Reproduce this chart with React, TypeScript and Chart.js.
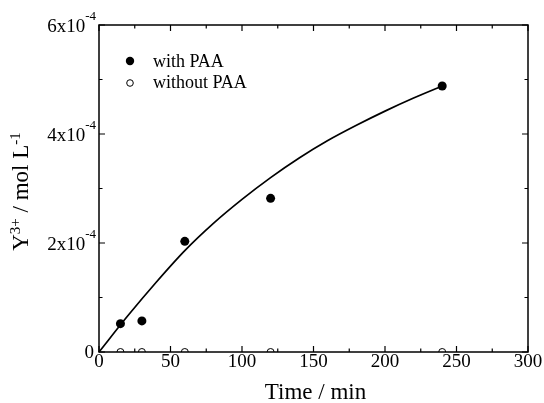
import React, { useEffect, useRef } from "react";
import { Chart, registerables } from "chart.js";

Chart.register(...registerables);

// ---- data ----
const fitTimes = [0, 20, 40, 60, 80, 100, 120, 140, 160, 180, 200, 220, 240];
const fitValues = [0, 0.66e-4, 1.28e-4, 1.86e-4, 2.36e-4, 2.8e-4, 3.2e-4, 3.56e-4, 3.88e-4, 4.16e-4, 4.42e-4, 4.66e-4, 4.88e-4];
const sampleTimes = [15, 30, 60, 120, 240];
const withPAA = [0.52e-4, 0.57e-4, 2.03e-4, 2.82e-4, 4.88e-4];
const withoutPAA = [0, 0, 0, 0, 0];
const xTickValues = [0, 50, 100, 150, 200, 250, 300];
const yTickMantissas = [0, 2, 4, 6];
const yExponentText = "-4";
const yUnit = 1e-4;
const legendLabels = ["with PAA", "without PAA"];
const xTitle = "Time / min";
const yTitleParts: [string, boolean][] = [
  ["Y", false],
  ["3+", true],
  [" / mol L", false],
  ["-1", true],
];

const FONT = '"Liberation Serif", "Times New Roman", serif';

const decorPlugin = {
  id: "decor",
  afterDraw(chart: any) {
    const { ctx, chartArea: a, scales } = chart;
    const xs = scales.x;
    const ys = scales.y;
    ctx.save();
    ctx.strokeStyle = "#000";
    ctx.fillStyle = "#000";

    // ticks (inward, all four sides)
    ctx.lineWidth = 1.2;
    ctx.beginPath();
    const xStep = xTickValues[1] - xTickValues[0];
    for (let i = 0; i < xTickValues.length; i++) {
      const vals = [xTickValues[i]];
      if (i < xTickValues.length - 1) vals.push(xTickValues[i] + xStep / 2);
      vals.forEach((v, k) => {
        const px = xs.getPixelForValue(v);
        const len = k === 0 ? 6 : 3.5;
        ctx.moveTo(px, a.bottom);
        ctx.lineTo(px, a.bottom - len);
        ctx.moveTo(px, a.top);
        ctx.lineTo(px, a.top + len);
      });
    }
    for (let i = 0; i < yTickMantissas.length; i++) {
      const vals = [yTickMantissas[i]];
      if (i < yTickMantissas.length - 1) vals.push((yTickMantissas[i] + yTickMantissas[i + 1]) / 2);
      vals.forEach((m, k) => {
        const py = ys.getPixelForValue(m * yUnit);
        const len = k === 0 ? 6 : 3.5;
        ctx.moveTo(a.left, py);
        ctx.lineTo(a.left + len, py);
        ctx.moveTo(a.right, py);
        ctx.lineTo(a.right - len, py);
      });
    }
    ctx.stroke();

    // frame
    ctx.lineWidth = 1.5;
    ctx.strokeRect(a.left, a.top, a.right - a.left, a.bottom - a.top);

    // y tick labels with superscript exponent
    const rightEdge = a.left - 3;
    yTickMantissas.forEach((m) => {
      const py = ys.getPixelForValue(m * yUnit);
      ctx.textAlign = "left";
      ctx.textBaseline = "alphabetic";
      if (m === 0) {
        ctx.font = `19px ${FONT}`;
        const w = ctx.measureText("0").width;
        ctx.fillText("0", rightEdge - 2 - w, py + 6);
        return;
      }
      const main = `${m}x10`;
      ctx.font = `19px ${FONT}`;
      const wm = ctx.measureText(main).width;
      ctx.font = `13px ${FONT}`;
      const ws = ctx.measureText(yExponentText).width;
      const x0 = rightEdge - wm - ws;
      ctx.font = `19px ${FONT}`;
      ctx.fillText(main, x0, py + 7);
      ctx.font = `13px ${FONT}`;
      ctx.fillText(yExponentText, x0 + wm, py - 5);
    });

    // x title
    ctx.font = `23px ${FONT}`;
    ctx.textAlign = "center";
    ctx.textBaseline = "alphabetic";
    ctx.fillText(xTitle, (a.left + a.right) / 2 + 2, 399);

    // y title (rotated, with superscripts)
    ctx.save();
    ctx.translate(27.5, (a.top + a.bottom) / 2 + 3);
    ctx.rotate(-Math.PI / 2);
    let total = 0;
    const widths = yTitleParts.map(([t, sup]) => {
      ctx.font = `${sup ? 15 : 23}px ${FONT}`;
      const w = ctx.measureText(t).width;
      total += w;
      return w;
    });
    let cx = -total / 2;
    ctx.textAlign = "left";
    yTitleParts.forEach(([t, sup], i) => {
      ctx.font = `${sup ? 15 : 23}px ${FONT}`;
      ctx.fillText(t, cx, sup ? -8 : 0);
      cx += widths[i];
    });
    ctx.restore();

    // legend
    const lx = a.left + 31;
    const ly1 = a.top + 36;
    const ly2 = a.top + 58;
    ctx.beginPath();
    ctx.arc(lx, ly1, 4.2, 0, Math.PI * 2);
    ctx.fill();
    ctx.beginPath();
    ctx.lineWidth = 1;
    ctx.arc(lx, ly2, 3.3, 0, Math.PI * 2);
    ctx.fillStyle = "#fff";
    ctx.fill();
    ctx.stroke();
    ctx.fillStyle = "#000";
    ctx.font = `18px ${FONT}`;
    ctx.textAlign = "left";
    ctx.textBaseline = "alphabetic";
    ctx.fillText(legendLabels[0], a.left + 54, ly1 + 5.5);
    ctx.fillText(legendLabels[1], a.left + 54, ly2 + 5);

    ctx.restore();
  },
};

export default function App() {
  const canvasRef = useRef<HTMLCanvasElement | null>(null);

  useEffect(() => {
    const canvas = canvasRef.current;
    if (!canvas) return;
    const chart = new Chart(canvas, {
      type: "scatter",
      data: {
        datasets: [
          {
            label: "fit",
            data: fitTimes.map((t, i) => ({ x: t, y: fitValues[i] })),
            showLine: true,
            borderColor: "#000",
            borderWidth: 1.7,
            pointRadius: 0,
            cubicInterpolationMode: "monotone",
            clip: 2,
          } as any,
          {
            label: legendLabels[0],
            data: sampleTimes.map((t, i) => ({ x: t, y: withPAA[i] })),
            pointRadius: 4.5,
            pointBackgroundColor: "#000",
            pointBorderColor: "#000",
            pointBorderWidth: 0,
          },
          {
            label: legendLabels[1],
            data: sampleTimes.map((t, i) => ({ x: t, y: withoutPAA[i] })),
            pointRadius: 3.5,
            pointBackgroundColor: "#fff",
            pointBorderColor: "#000",
            pointBorderWidth: 1,
            clip: 0,
          } as any,
        ],
      },
      options: {
        responsive: false,
        animation: false,
        devicePixelRatio: 1,
        layout: { padding: { top: 25, right: 16, left: 0, bottom: 0 } },
        plugins: {
          legend: { display: false },
          tooltip: { enabled: false },
        },
        scales: {
          x: {
            type: "linear",
            min: 0,
            max: 300,
            afterFit: (s: any) => {
              s.height = 51;
            },
            afterBuildTicks: (s: any) => {
              s.ticks = xTickValues.map((v) => ({ value: v }));
            },
            grid: { display: false, drawTicks: false },
            border: { display: false },
            ticks: {
              padding: 1,
              color: "#000",
              font: { family: FONT, size: 19, lineHeight: 1 },
              maxRotation: 0,
            },
          },
          y: {
            type: "linear",
            min: 0,
            max: 6e-4,
            afterFit: (s: any) => {
              s.width = 99;
            },
            grid: { display: false, drawTicks: false },
            border: { display: false },
            ticks: { display: false },
          },
        },
      },
      plugins: [decorPlugin],
    });
    return () => chart.destroy();
  }, []);

  return (
    <div style={{ position: "fixed", left: 0, top: 0, width: 544, height: 403, background: "#fff" }}>
      <canvas ref={canvasRef} width={544} height={403} style={{ display: "block" }} />
    </div>
  );
}
